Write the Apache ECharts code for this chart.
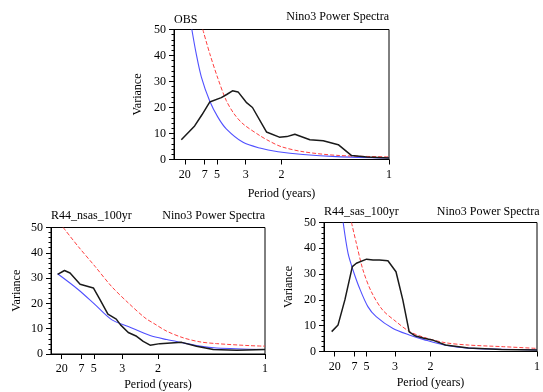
<!DOCTYPE html>
<html><head><meta charset="utf-8">
<script src="https://cdn.jsdelivr.net/npm/echarts@6/dist/echarts.min.js"></script>
<style>html,body{margin:0;padding:0;background:#fff}#c{width:543px;height:392px}</style>
</head><body><div id="c"></div>
<script>
// Period tick labels (years); axis is frequency (cycles/year)
const periodTicks = [20, 7, 5, 3, 2, 1];
const yTicks = [0, 10, 20, 30, 40, 50];
const panelNames = ['OBS', 'R44_nsas_100yr', 'R44_sas_100yr'];
const rightTitle = 'Nino3 Power Spectra';

// OBS panel: [frequency, variance]
const obsSpectrum = [[0.034,7.6],[0.096,12.9],[0.13,17.2],[0.166,22.1],[0.22,23.8],[0.245,25.0],[0.272,26.4],[0.298,26.0],[0.336,22.0],[0.365,20.0],[0.43,10.6],[0.49,8.6],[0.525,8.8],[0.562,9.7],[0.632,7.6],[0.694,7.2],[0.764,5.7],[0.826,1.5],[0.896,1.0],[1.0,0.6]];
const obsRedNoise = [[0.083,50],[0.103,40.8],[0.127,31.8],[0.166,22.5],[0.204,16.3],[0.243,11.8],[0.321,6.6],[0.399,4.4],[0.484,3.0],[0.6,1.9],[0.756,1.1],[1.0,0.6]];
const obsConf95 = [[0.134,50],[0.166,40.8],[0.204,31.2],[0.243,22.7],[0.28,17.5],[0.321,13.7],[0.399,9.2],[0.445,7.0],[0.5,4.9],[0.6,3.0],[0.756,1.6],[1.0,1.0]];

// R44_nsas_100yr panel
const nsasSpectrum = [[0.031,31.5],[0.063,33.0],[0.089,32.0],[0.136,27.6],[0.198,26.1],[0.227,21.8],[0.266,15.8],[0.305,13.8],[0.325,11.5],[0.361,8.5],[0.40,7.0],[0.431,5.0],[0.463,3.5],[0.509,4.1],[0.611,4.6],[0.68,3.1],[0.758,1.8],[0.868,1.5],[1.0,1.8]];
const nsasRedNoise = [[0.031,31.7],[0.128,25.4],[0.206,19.5],[0.283,13.6],[0.361,10.9],[0.463,7.3],[0.541,5.7],[0.618,4.4],[0.696,3.1],[0.774,2.4],[1.0,1.8]];
const nsasConf95 = [[0.057,50],[0.128,42.4],[0.206,34.6],[0.283,26.7],[0.361,20.2],[0.439,14.3],[0.486,11.8],[0.541,9.0],[0.618,6.4],[0.696,4.8],[0.774,4.1],[0.93,3.3],[1.0,3.1]];

// R44_sas_100yr panel
const sasSpectrum = [[0.036,7.7],[0.066,10.3],[0.098,20.0],[0.133,32.9],[0.152,34.2],[0.20,35.8],[0.23,35.5],[0.26,35.5],[0.30,35.2],[0.338,30.9],[0.37,20.0],[0.40,7.6],[0.43,6.0],[0.469,5.1],[0.508,4.5],[0.57,2.5],[0.678,1.4],[0.833,0.8],[1.0,0.6]];
const sasRedNoise = [[0.09,50],[0.113,38.0],[0.136,31.6],[0.167,24.5],[0.206,17.4],[0.245,13.5],[0.322,9.0],[0.4,6.4],[0.469,4.6],[0.57,2.4],[0.678,1.3],[0.833,0.9],[1.0,0.6]];
const sasConf95 = [[0.129,50],[0.152,41.9],[0.183,31.6],[0.222,23.2],[0.275,16.1],[0.338,11.6],[0.4,7.8],[0.469,5.5],[0.57,3.4],[0.678,2.5],[0.833,1.9],[1.0,1.2]];

const panels = [
  {spec: obsSpectrum, red: obsRedNoise, conf: obsConf95},
  {spec: nsasSpectrum, red: nsasRedNoise, conf: nsasConf95},
  {spec: sasSpectrum, red: sasRedNoise, conf: sasConf95}
];

const FONT = 'Liberation Serif, Times New Roman, serif';
const grids = [
  {left: 174, top: 29.5, width: 215, height: 130},
  {left: 51, top: 227.5, width: 214, height: 127.5},
  {left: 324, top: 222.5, width: 215.5, height: 129}
];
const nameGaps = [{x: 28, y: 30}, {x: 25, y: 28}, {x: 25, y: 29}];
const titleY = [[21, 18], [217, 217], [212.5, 212.5]];

const tickFreqs = periodTicks.map(p => 1 / p);

const option = {
  animation: false,
  backgroundColor: '#fff',
  grid: grids.map(g => Object.assign({show: true, borderColor: '#000', borderWidth: 1, backgroundColor: 'transparent', containLabel: false}, g)),
  xAxis: grids.map((g, i) => ({
    type: 'value', gridIndex: i, min: 0, max: 1,
    name: 'Period (years)', nameLocation: 'middle', nameGap: nameGaps[i].x,
    nameTextStyle: {fontFamily: FONT, fontSize: 12, color: '#000'},
    axisLine: {show: true, lineStyle: {color: '#000', width: 1}},
    axisTick: {show: true, inside: false, length: 5, customValues: tickFreqs, lineStyle: {color: '#000'}},
    axisLabel: {show: true, margin: 9, customValues: tickFreqs, fontFamily: FONT, fontSize: 12, color: '#000',
      formatter: v => String(periodTicks[tickFreqs.findIndex(t => Math.abs(t - v) < 1e-6)] ?? Math.round(1 / v))},
    splitLine: {show: false}
  })),
  yAxis: grids.map((g, i) => ({
    type: 'value', gridIndex: i, min: 0, max: 50, interval: 10,
    name: 'Variance', nameLocation: 'middle', nameGap: nameGaps[i].y, nameRotate: 90,
    nameTextStyle: {fontFamily: FONT, fontSize: 12, color: '#000'},
    axisLine: {show: true, lineStyle: {color: '#000', width: 1}},
    axisTick: {show: true, inside: false, length: 5, lineStyle: {color: '#000'}},
    minorTick: {show: true, splitNumber: 5, length: 2.5, lineStyle: {color: '#000'}},
    axisLabel: {show: true, margin: 8, fontFamily: FONT, fontSize: 12, color: '#000',
      customValues: yTicks},
    splitLine: {show: false}
  })),
  graphic: panelNames.flatMap((name, i) => {
    const g = grids[i];
    return [
      {type: 'text', left: g.left, top: titleY[i][0] - 7, style: {text: name, font: '12px ' + FONT, fill: '#000'}},
      {type: 'text', right: 543 - (g.left + g.width), top: titleY[i][1] - 7, style: {text: rightTitle, font: '12px ' + FONT, fill: '#000'}}
    ];
  }),
  series: panels.flatMap((p, i) => [
    {type: 'line', xAxisIndex: i, yAxisIndex: i, data: p.red, showSymbol: false, smooth: 0.3, clip: true,
      lineStyle: {color: '#5050ff', width: 1.1}},
    {type: 'line', xAxisIndex: i, yAxisIndex: i, data: p.conf, showSymbol: false, smooth: 0.3, clip: true,
      lineStyle: {color: '#ff4040', width: 1, type: [4, 2]}},
    {type: 'line', xAxisIndex: i, yAxisIndex: i, data: p.spec, showSymbol: false, clip: true,
      lineStyle: {color: '#1a1a1a', width: 1.5}}
  ])
};

const chart = echarts.init(document.getElementById('c'), null, {renderer: 'canvas'});
chart.setOption(option);
</script>
</body></html>
